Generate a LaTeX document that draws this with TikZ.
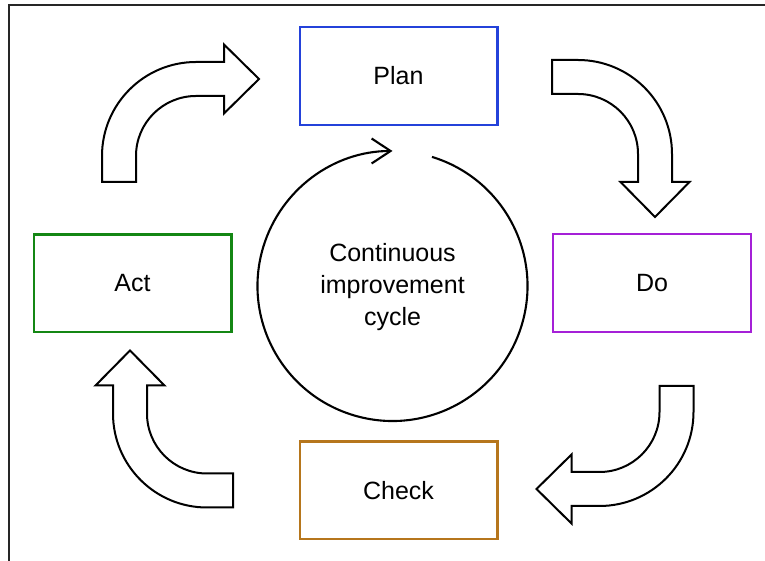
\documentclass[tikz,border=0pt]{standalone}
\usepackage{fontspec}
\setmainfont{Liberation Sans}
\usepackage{xcolor}
\usetikzlibrary{arrows.meta}
\definecolor{planblue}{RGB}{36,66,218}
\definecolor{dopurple}{RGB}{165,32,215}
\definecolor{checkbrown}{RGB}{182,118,28}
\definecolor{actgreen}{RGB}{20,135,20}
\tikzset{
    stage/.style={
        draw,
        rectangle,
        fill=white,
        line width=2.4pt,
        minimum width=197.6pt,
        minimum height=97.6pt,
        font=\fontsize{25}{31}\selectfont
    },
    bigarrow/.style={
        draw,
        fill=white,
        line width=2pt,
        line join=miter
    }
}
% bent block arrow: #1 = centre of the bend, #2 = rotation
\newcommand{\bentarrow}[2]{
    \begin{scope}[shift={#1}, rotate=#2]
        \draw[bigarrow] (-94,-26) -- (-94,0) arc[start angle=180, end angle=90, radius=94pt]
            -- (28,94) -- (28,111.5) -- (63,77) -- (28,42.5) -- (28,60) -- (0,60)
            arc[start angle=90, end angle=180, radius=60pt] -- (-60,-26) -- cycle;
    \end{scope}
}

\begin{document}
\begin{tikzpicture}[x=1pt, y=1pt]
    \useasboundingbox (0,0) rectangle (765,561);
    \draw[line width=2.2pt, black!85] (9,0) -- (9,556) -- (765,556);

    % Stages
    \node[stage, draw=planblue] (plan) at (398.5,485) {Plan};
    \node[stage, draw=dopurple] (do) at (652,278) {Do};
    \node[stage, draw=checkbrown] (check) at (398.5,70.5) {Check};
    \node[stage, draw=actgreen] (act) at (132.5,277.5) {Act};

    % Centre loop
    \node[align=center, font=\fontsize{25}{32}\selectfont] (pdca) at (392.5,274) {Continuous\\improvement\\cycle};
    \draw[line width=2.1pt, -{Straight Barb[length=19pt, width=25pt, line width=2.1pt]}]
        ([shift={(73:135pt)}]392.5,275) arc[start angle=73, end angle=-270, radius=135pt];

    % Block arrows between stages
    \bentarrow{(196,405)}{0}
    \bentarrow{(578,407)}{-90}
    \bentarrow{(599.5,149)}{180}
    \bentarrow{(207,147.5)}{90}
\end{tikzpicture}
\end{document}
